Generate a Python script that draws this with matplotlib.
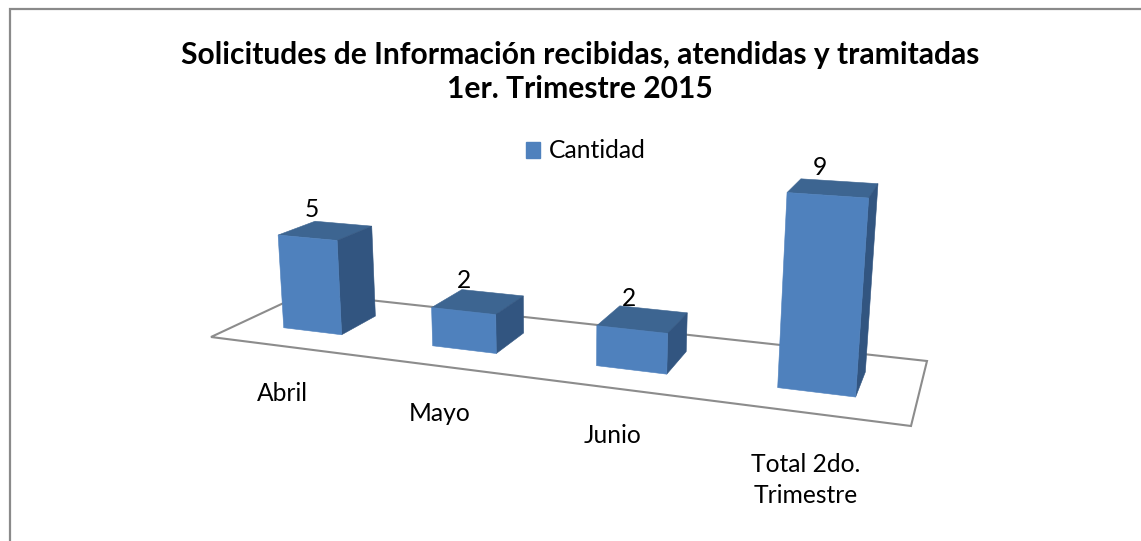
# -*- coding: utf-8 -*-
import numpy as np
import matplotlib
matplotlib.use('Agg')
import matplotlib.pyplot as plt
from matplotlib.patches import Patch, Polygon

plt.rcParams['font.family'] = ['Lato', 'DejaVu Sans']

title_lines = ['Solicitudes de Información recibidas, atendidas y tramitadas', '1er. Trimestre 2015']
categories = ['Abril', 'Mayo', 'Junio', 'Total 2do.\nTrimestre']
series_name = 'Cantidad'
values = [5, 2, 2, 9]

C_FRONT = '#4F81BD'
C_TOP = '#3D6591'
C_SIDE = '#325580'
C_LINE = '#8C8C8C'
C_FRAME = '#8A8A8A'

# camera: floor plane corners on the canvas, vanishing point of the vertical axis
FLOOR_PX = [[211, 337], [911, 426], [927, 361], [305, 293]]
VERT_VP = np.array([561, 4900, 1.0])
Z_SCALE = 9.26e-6
BAR_LO, BAR_HI = 0.3, 0.7
FS = 17.7


def floor_matrix():
    n = len(categories)
    rows = []
    for (u, v), (x, y) in zip([(0, 0), (n, 0), (n, 1), (0, 1)], FLOOR_PX):
        rows.append([u, v, 1, 0, 0, 0, -x * u, -x * v, -x])
        rows.append([0, 0, 0, u, v, 1, -y * u, -y * v, -y])
    return np.linalg.svd(np.array(rows))[2][-1].reshape(3, 3)


H = floor_matrix()


def project(x, d, z=0):
    p = H @ np.array([x, d, 1.0])
    p = p + z * Z_SCALE * VERT_VP
    return p[0] / p[2], p[1] / p[2]


fig = plt.figure(figsize=(11.41, 5.41), dpi=100)
ax = fig.add_axes([0, 0, 1, 1])
ax.set_xlim(0, 1141)
ax.set_ylim(541, 0)
ax.axis('off')

# chart frame, cut off at the right and bottom
ax.plot([9.5, 9.5, 1141], [541, 8.5, 8.5], color=C_FRAME, lw=1.6, solid_joinstyle='miter')

# floor
n = len(categories)
ax.add_patch(Polygon([project(0, 0), project(n, 0), project(n, 1), project(0, 1)], closed=True,
                     facecolor='white', edgecolor=C_LINE, lw=1.5))

# bars
for i, val in enumerate(values):
    x0, x1 = i + BAR_LO, i + BAR_HI
    d0, d1 = BAR_LO, BAR_HI
    ax.add_patch(Polygon([project(x0, d0, val), project(x1, d0, val), project(x1, d1, val), project(x0, d1, val)],
                         closed=True, facecolor=C_TOP, edgecolor=C_TOP, lw=0.4))
    ax.add_patch(Polygon([project(x1, d0, 0), project(x1, d1, 0), project(x1, d1, val), project(x1, d0, val)],
                         closed=True, facecolor=C_SIDE, edgecolor=C_SIDE, lw=0.4))
    ax.add_patch(Polygon([project(x0, d0, 0), project(x1, d0, 0), project(x1, d0, val), project(x0, d0, val)],
                         closed=True, facecolor=C_FRONT, edgecolor=C_FRONT, lw=0.4))
    # etiqueta del valor
    ax.annotate(str(val), project(i + 0.5, 0.5, val), xytext=(-14, 21), textcoords='offset pixels',
                ha='center', va='center', fontsize=FS, color='black')

# category labels under the floor, wrapped ones sit a bit lower
for i, label in enumerate(categories):
    px, py = project(i + 0.5, 0)
    ax.annotate(label, (px, py), xytext=(-1, -47 - 20 * label.count('\n')), textcoords='offset pixels',
                ha='center', va='center', fontsize=FS, color='black', linespacing=1.4)

fig.text(580 / 1141, 1 - 55 / 541, title_lines[0], ha='center', va='center', fontsize=21.6, fontweight='bold')
fig.text(580 / 1141, 1 - 89 / 541, title_lines[1], ha='center', va='center', fontsize=21.6, fontweight='bold')

ax.legend(handles=[Patch(color=C_FRONT, label=series_name)], loc='center',
          bbox_to_anchor=(585.5 / 1141, 1 - 151 / 541), frameon=False, fontsize=FS,
          handlelength=0.6, handleheight=0.6, handletextpad=0.33, borderpad=0, borderaxespad=0)

fig.savefig('out.png', dpi=100)
